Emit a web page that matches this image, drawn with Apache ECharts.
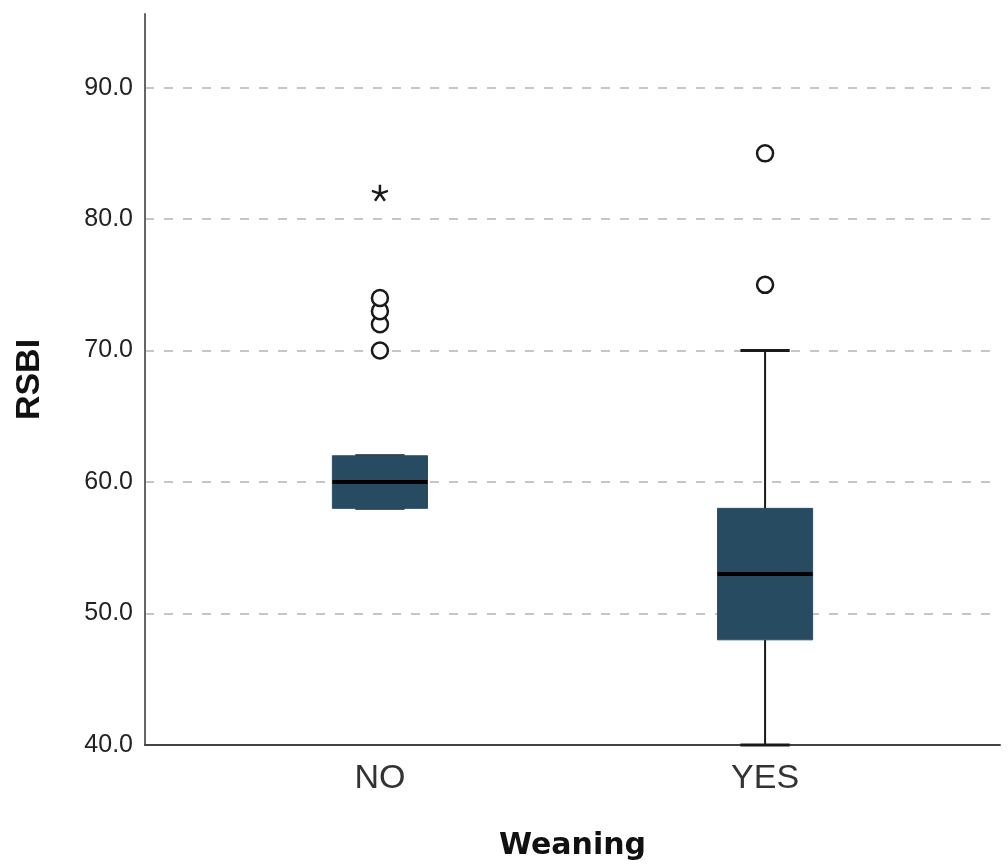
<!DOCTYPE html>
<html>
<head>
<meta charset="utf-8">
<title>RSBI by Weaning</title>
<script src="https://cdn.jsdelivr.net/npm/echarts@6/dist/echarts.min.js"></script>
<style>
  html, body { margin: 0; padding: 0; background: #ffffff; }
  #chart { width: 1008px; height: 865px; }
</style>
</head>
<body>
<div id="chart"></div>
<script>
// Groups on the horizontal axis
const categories = ['NO', 'YES'];

// Five-number summaries per group
const whiskerLow  = [58, 40];
const q1          = [58, 48];
const median      = [60, 53];
const q3          = [62, 58];
const whiskerHigh = [62, 70];

// Outliers (circles) and extreme values (asterisks): [group index, RSBI]
const outliers = [[0, 70], [0, 72], [0, 73], [0, 74], [1, 75], [1, 85]];
const extremes = [[0, 82]];

// Y axis ticks
const yTicks = [40, 50, 60, 70, 80, 90];

const boxData = categories.map((c, i) => [i, whiskerLow[i], q1[i], median[i], q3[i], whiskerHigh[i]]);

const BOX_WIDTH = 0.247;   // in x-axis units
const CAP_WIDTH = 0.128;

function renderBox(params, api) {
  const x = api.value(0);
  const pLow = api.coord([x, api.value(1)]);
  const pQ1 = api.coord([x, api.value(2)]);
  const pMed = api.coord([x, api.value(3)]);
  const pQ3 = api.coord([x, api.value(4)]);
  const pHigh = api.coord([x, api.value(5)]);
  const bw = api.size([BOX_WIDTH, 0])[0];
  const cw = api.size([CAP_WIDTH, 0])[0];
  const cx = pMed[0];
  const lineStyle = { stroke: '#1a1a1a', lineWidth: 2 };
  const capStyle = { stroke: '#1a1a1a', lineWidth: 3 };
  return {
    type: 'group',
    children: [
      { type: 'line', shape: { x1: cx, y1: pLow[1], x2: cx, y2: pQ1[1] }, style: lineStyle },
      { type: 'line', shape: { x1: cx, y1: pQ3[1], x2: cx, y2: pHigh[1] }, style: lineStyle },
      { type: 'line', shape: { x1: cx - cw / 2, y1: pLow[1], x2: cx + cw / 2, y2: pLow[1] }, style: capStyle },
      { type: 'line', shape: { x1: cx - cw / 2, y1: pHigh[1], x2: cx + cw / 2, y2: pHigh[1] }, style: capStyle },
      {
        type: 'rect',
        shape: { x: cx - bw / 2, y: pQ3[1], width: bw, height: pQ1[1] - pQ3[1] },
        style: { fill: '#274b60', stroke: '#2c5064', lineWidth: 1 }
      },
      { type: 'line', shape: { x1: cx - bw / 2, y1: pMed[1], x2: cx + bw / 2, y2: pMed[1] }, style: { stroke: '#000000', lineWidth: 4 } }
    ]
  };
}

const chart = echarts.init(document.getElementById('chart'), null, { renderer: 'canvas' });

chart.setOption({
  backgroundColor: '#ffffff',
  animation: false,
  grid: { left: 145, right: 8, top: 14, bottom: 120, containLabel: false, outerBoundsMode: 'none' },
  xAxis: {
    type: 'value',
    min: -0.61,
    max: 1.61,
    name: 'Weaning',
    nameLocation: 'middle',
    nameGap: 86,
    nameTextStyle: { fontFamily: 'DejaVu Sans', fontWeight: 'bold', fontSize: 30, color: '#111' },
    axisLine: { show: true, onZero: false, lineStyle: { color: '#444', width: 2 } },
    axisTick: { show: false, customValues: [0, 1] },
    splitLine: { show: false },
    axisLabel: {
      customValues: [0, 1],
      formatter: v => categories[Math.round(v)],
      fontFamily: 'Liberation Sans',
      fontSize: 34,
      color: '#333',
      margin: 17
    }
  },
  yAxis: {
    type: 'value',
    min: 40,
    max: 95.6,
    interval: 10,
    name: 'RSBI',
    nameLocation: 'middle',
    nameGap: 98,
    nameRotate: 90,
    nameTextStyle: { fontFamily: 'Liberation Sans', fontWeight: 'bold', fontSize: 34, color: '#111' },
    axisLine: { show: true, onZero: false, lineStyle: { color: '#666', width: 2 } },
    axisTick: { show: false, customValues: yTicks },
    axisLabel: {
      customValues: yTicks,
      formatter: v => v.toFixed(1),
      fontFamily: 'Liberation Sans',
      fontSize: 25,
      color: '#222',
      margin: 12
    },
    splitLine: {
      show: true,
      lineStyle: { color: '#c6c6c6', width: 2, type: [9, 10] }
    }
  },
  series: [
    {
      type: 'custom',
      renderItem: renderBox,
      data: boxData,
      encode: { x: 0, y: [1, 2, 3, 4, 5] },
      z: 3
    },
    {
      type: 'scatter',
      data: outliers,
      symbol: 'circle',
      symbolSize: 16,
      itemStyle: { color: '#ffffff', borderColor: '#1a1a1a', borderWidth: 2.5, opacity: 1 },
      z: 4
    },
    {
      type: 'scatter',
      data: extremes,
      symbol: 'path://M10 10 L10 0 M10 10 L19.51 6.91 M10 10 L15.88 18.09 M10 10 L4.12 18.09 M10 10 L0.49 6.91',
      symbolSize: 16,
      itemStyle: { color: 'transparent', borderColor: '#1a1a1a', borderWidth: 2.5, opacity: 1 },
      z: 4
    }
  ]
});
</script>
</body>
</html>
